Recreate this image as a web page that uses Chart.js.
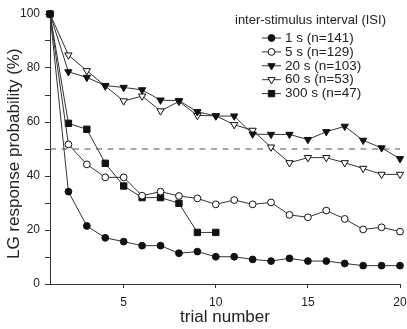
<!DOCTYPE html>
<html>
<head>
<meta charset="utf-8">
<script src="https://cdn.jsdelivr.net/npm/chart.js@4"></script>
<style>
  html, body { margin: 0; padding: 0; background: #fff; }
</style>
</head>
<body>
<canvas id="chart" width="407" height="329"></canvas>
<script>
// ── Data ──────────────────────────────────────────────────────
const trials = [1, 2, 3, 4, 5, 6, 7, 8, 9, 10, 11, 12, 13, 14, 15, 16, 17, 18, 19, 20];
const isi1 = [100, 34.2, 21.5, 17.1, 15.7, 14.2, 14.2, 11.4, 12.0, 10.1, 10.1, 9.1, 8.5, 9.5, 8.5, 8.5, 7.6, 6.8, 6.8, 6.8];
const isi5 = [100, 51.7, 44.3, 39.5, 39.5, 32.7, 34.2, 32.6, 31.7, 29.5, 31.1, 29.5, 30.2, 25.6, 24.7, 27.2, 24.1, 20.2, 21.0, 19.4];
const isi20 = [100, 78.6, 76.5, 73.5, 72.8, 71.9, 68.1, 67.9, 63.8, 62.2, 62.2, 55.5, 55.4, 55.4, 53.5, 56.4, 58.4, 53.2, 50.4, 46.4];
const isi60 = [100, 84.8, 79.0, 73.3, 67.8, 69.6, 64.1, 67.6, 62.4, 62.3, 59.0, 56.9, 50.7, 44.9, 46.8, 46.8, 44.9, 42.8, 40.6, 40.6];
const isi300 = [100, 59.5, 57.3, 44.7, 36.3, 32.0, 32.0, 29.9, 19.1, 19.1];
const criterion = 50;

const seriesLabels = ['1 s (n=141)', '5 s (n=129)', '20 s (n=103)', '60 s (n=53)', '300 s (n=47)'];
const legendTitle = 'inter-stimulus interval (ISI)';
const xTicks = [5, 10, 15, 20];
const yTicks = [0, 10, 20, 30, 40, 50, 60, 70, 80, 90, 100];
const yLabels = [0, 20, 40, 60, 80, 100];

// ── Styles ────────────────────────────────────────────────────
const FONT = '"Liberation Sans", Arial, sans-serif';
const lineCol = '#333';
const markCol = '#111';
const markers = [
  { style: 'circle', r: 3.4, rot: 0, fill: markCol },
  { style: 'circle', r: 3.4, rot: 0, fill: '#fff' },
  { style: 'triangle', r: 4.2, rot: 180, fill: markCol },
  { style: 'triangle', r: 4.2, rot: 180, fill: '#fff' },
  { style: 'rect', r: 4.5, rot: 0, fill: markCol },
];

const toXY = vals => vals.map((v, i) => ({ x: trials[i], y: v }));
const seriesData = [isi1, isi5, isi20, isi60, isi300];

const datasets = seriesData.map((vals, i) => ({
  label: seriesLabels[i],
  data: toXY(vals),
  borderColor: lineCol,
  borderWidth: 1,
  tension: 0,
  pointStyle: markers[i].style,
  pointRadius: markers[i].r,
  pointRotation: markers[i].rot,
  pointBackgroundColor: markers[i].fill,
  pointBorderColor: markCol,
  pointBorderWidth: 1,
  clip: false,
}));

// dashed 50% line
datasets.push({
  label: 'criterion',
  data: [{ x: trials[0], y: criterion }, { x: trials[trials.length - 1], y: criterion }],
  borderColor: '#555',
  borderWidth: 1.2,
  borderDash: [6, 5.5],
  pointRadius: 0,
  order: 10,
});

// ── Legend with title, line + marker ──────────────────────────
const isiLegend = {
  id: 'isiLegend',
  afterDraw(chart) {
    const ctx = chart.ctx;
    ctx.save();
    ctx.textBaseline = 'middle';
    ctx.fillStyle = '#222';
    ctx.font = '13px ' + FONT;
    ctx.fillText(legendTitle, 235, 20);
    ctx.font = '13.5px ' + FONT;
    seriesLabels.forEach((lab, i) => {
      const y = 38 + i * 13.9;
      ctx.strokeStyle = lineCol;
      ctx.lineWidth = 1;
      ctx.beginPath();
      ctx.moveTo(262, y);
      ctx.lineTo(281, y);
      ctx.stroke();
      ctx.fillStyle = markers[i].fill;
      ctx.strokeStyle = markCol;
      Chart.helpers.drawPoint(ctx, {
        pointStyle: markers[i].style, radius: markers[i].r,
        rotation: markers[i].rot, borderWidth: 1
      }, 271.5, y);
      ctx.fillStyle = '#222';
      ctx.fillText(lab, 285, y);
    });
    ctx.restore();
  }
};

new Chart(document.getElementById('chart'), {
  type: 'line',
  data: { datasets },
  plugins: [isiLegend],
  options: {
    responsive: false,
    animation: false,
    layout: { padding: { top: 14, right: 7, left: 0, bottom: 0 } },
    plugins: { legend: { display: false }, tooltip: { enabled: false } },
    scales: {
      x: {
        type: 'linear',
        min: 1, max: 20,
        afterBuildTicks: s => { s.ticks = xTicks.map(v => ({ value: v })); },
        // fixed height, and no extra side padding from the tick labels
        afterFit: s => { s.height = 45; s.paddingLeft = 0; s.paddingRight = 0; },
        grid: { drawOnChartArea: false, drawTicks: true, tickLength: 4, color: lineCol },
        border: { color: lineCol, width: 1 },
        ticks: { color: '#222', font: { family: FONT, size: 12 }, padding: 7, maxRotation: 0 },
        title: { display: true, text: 'trial number', color: '#222', font: { family: FONT, size: 17 }, padding: { top: 0, bottom: 1 } }
      },
      y: {
        type: 'linear',
        min: 0, max: 100,
        afterBuildTicks: s => { s.ticks = yTicks.map(v => ({ value: v })); },
        afterFit: s => { s.width = 50; },
        grid: { drawOnChartArea: false, drawTicks: true, tickLength: 5, color: lineCol },
        border: { color: lineCol, width: 1 },
        ticks: {
          color: '#222', font: { family: FONT, size: 12 }, padding: 5,
          callback: v => yLabels.includes(v) ? String(v) : ''
        },
        title: { display: true, text: 'LG response probability (%)  ', color: '#222', font: { family: FONT, size: 17 }, padding: { top: 4, bottom: 0 } }
      }
    }
  }
});
</script>
</body>
</html>
